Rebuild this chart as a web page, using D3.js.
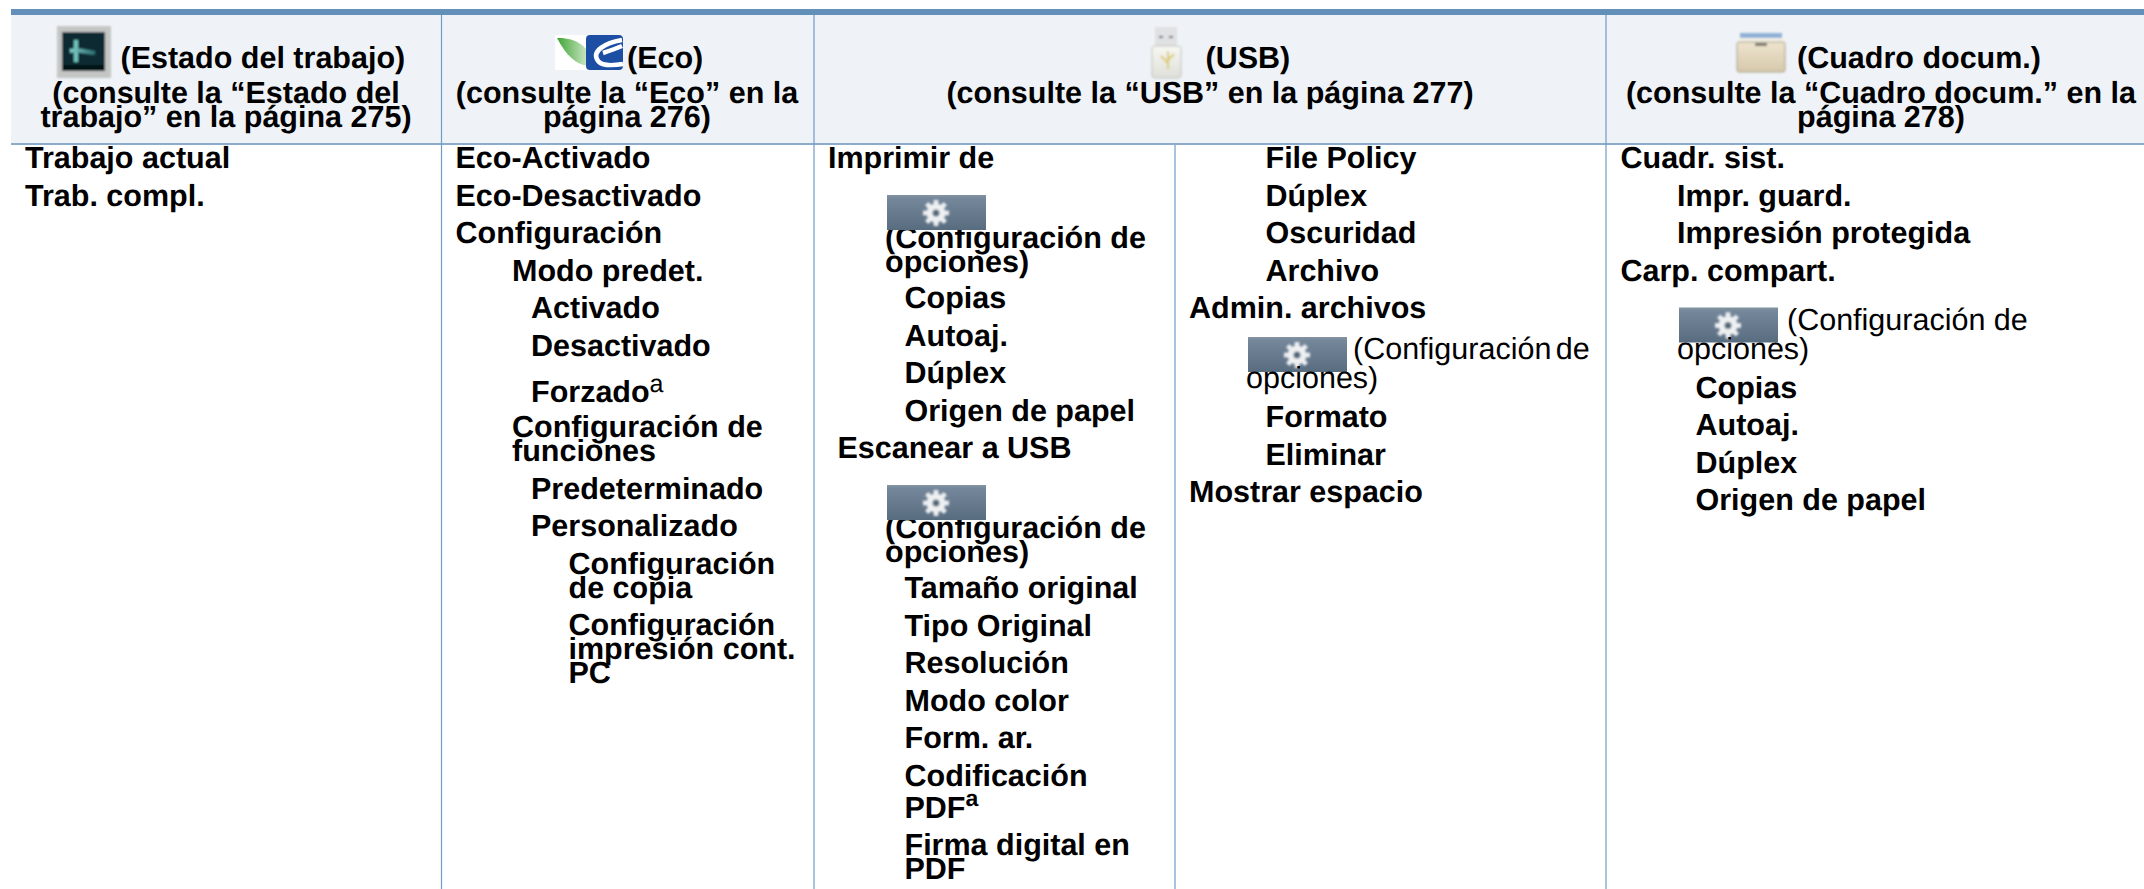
<!DOCTYPE html>
<html>
<head>
<meta charset="utf-8">
<script src="https://cdn.jsdelivr.net/npm/d3@7"></script>
<style>
  html, body { margin: 0; background: #fff; overflow: hidden; }
  text { font-family: "Liberation Sans", Arial, sans-serif; font-size: 30.5px; fill: #000; font-weight: bold; text-rendering: geometricPrecision; }
</style>
</head>
<body>
<div id="table"></div>
<script>
// table content. each row: [indent level, text, kind]. "|" breaks a cell line
const headTitles = ["(Estado del trabajo)", "(Eco)", "(USB)", "(Cuadro docum.)"];
const headRefs = [
    ["(consulte la “Estado del", "trabajo” en la página 275)"],
    ["(consulte la “Eco” en la", "página 276)"],
    ["(consulte la “USB” en la página 277)"],
    ["(consulte la “Cuadro docum.” en la", "página 278)"]
];
const colTrabajo = [[0, "Trabajo actual"], [0, "Trab. compl."]];
const colEco = [
    [0, "Eco-Activado"], [0, "Eco-Desactivado"], [0, "Configuración"], [1, "Modo predet."],
    [2, "Activado"], [2, "Desactivado"], [2, "Forzado", "supThin"],
    [1, "Configuración de|funciones"], [2, "Predeterminado"], [2, "Personalizado"],
    [3, "Configuración|de copia"], [3, "Configuración|impresión cont.|PC"]
];
const colUsb1 = [
    [0, "Imprimir de"], [1, "(Configuración de|opciones)", "gearAbove"],
    [2, "Copias"], [2, "Autoaj."], [2, "Dúplex"], [2, "Origen de papel"],
    [3, "Escanear a USB"], [1, "(Configuración de|opciones)", "gearAbove"],
    [2, "Tamaño original"], [2, "Tipo Original"], [2, "Resolución"], [2, "Modo color"], [2, "Form. ar."],
    [2, "Codificación|PDF", "supBold"], [2, "Firma digital en|PDF"]
];
const colUsb2 = [
    [1, "File Policy"], [1, "Dúplex"], [1, "Oscuridad"], [1, "Archivo"],
    [0, "Admin. archivos"], [2, "(Configuración de|opciones)", "gearInline"],
    [1, "Formato"], [1, "Eliminar"], [0, "Mostrar espacio"]
];
const colCuadro = [
    [0, "Cuadr. sist."], [1, "Impr. guard."], [1, "Impresión protegida"], [0, "Carp. compart."],
    [1, "(Configuración de|opciones)", "gearInline"],
    [2, "Copias"], [2, "Autoaj."], [2, "Dúplex"], [2, "Origen de papel"]
];

const width = 2144, height = 889;
const rowStep = 37.5, lineStep = 24, firstBaseline = 168;

// x of each indent level, per column
const indent = [
    d3.scaleOrdinal([0], [25]),
    d3.scaleOrdinal([0, 1, 2, 3], [455.5, 512, 531, 568.5]),
    d3.scaleOrdinal([0, 1, 2, 3], [828, 885, 904.5, 837.5]),
    d3.scaleOrdinal([0, 1, 2], [1189, 1265.5, 1246]),
    d3.scaleOrdinal([0, 1, 2], [1620.5, 1677, 1695.5])
];
const columns = [colTrabajo, colEco, colUsb1, colUsb2, colCuadro];

// gap before a row when it differs from rowStep
const gapBefore = { supThin: 46.5, gearAbove: 80, afterSupThin: 35, afterInline: 39, afterAbove: 36 };

const svg = d3.select("#table").append("svg").attr("width", width).attr("height", height);
const defs = svg.append("defs");

function vGrad(id, stops) {
    const g = defs.append("linearGradient").attr("id", id).attr("x1", 0).attr("x2", 0).attr("y1", 0).attr("y2", 1);
    stops.forEach(s => g.append("stop").attr("offset", s[0]).attr("stop-color", s[1]));
}
vGrad("btn", [[0, "#8494a2"], [0.1, "#75879a"], [1, "#586c80"]]);
vGrad("folder", [[0, "#eee4cf"], [1, "#d6c8aa"]]);
vGrad("usb", [[0, "#f8f8f3"], [1, "#dedfd9"]]);
const leaf = defs.append("linearGradient").attr("id", "leaf");
leaf.append("stop").attr("offset", 0).attr("stop-color", "#3fa535");
leaf.append("stop").attr("offset", 1).attr("stop-color", "#e4f0dc");
const crossFade = defs.append("linearGradient").attr("id", "crossFade");
crossFade.append("stop").attr("offset", 0).attr("stop-color", "#7fd0cb");
crossFade.append("stop").attr("offset", 1).attr("stop-color", "#2c6f73");
defs.append("filter").attr("id", "soft").append("feGaussianBlur").attr("stdDeviation", 0.8);

// header band and rules
svg.append("rect").attr("x", 11).attr("y", 15).attr("width", width - 11).attr("height", 128).attr("fill", "#eff3f7");
svg.append("rect").attr("x", 11).attr("y", 9).attr("width", width - 11).attr("height", 6).attr("fill", "#6390b8");
svg.append("rect").attr("x", 11).attr("y", 143).attr("width", width - 11).attr("height", 2).attr("fill", "#8caccc");
[441.5, 814, 1606].forEach(x => {
    svg.append("line").attr("x1", x).attr("x2", x).attr("y1", 15).attr("y2", height)
        .attr("stroke", "#6f9bc6").attr("stroke-width", 1.2);
});
svg.append("line").attr("x1", 1175).attr("x2", 1175).attr("y1", 145).attr("y2", height)
    .attr("stroke", "#6f9bc6").attr("stroke-width", 1.2);

// header text
const headTitleX = [120.5, 627, 1205.5, 1797];
const headCenter = [226, 627, 1210, 1881];
svg.selectAll("text.title").data(headTitles).enter().append("text")
    .attr("class", "title").attr("x", (d, i) => headTitleX[i]).attr("y", 68).text(d => d);
headRefs.forEach((lines, i) => {
    svg.selectAll(null).data(lines).enter().append("text")
        .attr("x", headCenter[i]).attr("y", (d, j) => 103 + j * lineStep)
        .attr("text-anchor", "middle").text(d => d);
});

// small settings button
function gearButton(x, y) {
    const g = svg.append("g").attr("transform", "translate(" + x + "," + y + ")");
    g.append("rect").attr("width", 99).attr("height", 35).attr("fill", "url(#btn)");
    const c = g.append("g").attr("transform", "translate(49,18)").attr("filter", "url(#soft)");
    d3.range(8).forEach(i => {
        c.append("rect").attr("x", -2.2).attr("y", -13).attr("width", 4.4).attr("height", 26)
            .attr("fill", "#eef0f2").attr("transform", "rotate(" + i * 45 + ")");
    });
    c.append("circle").attr("r", 9.5).attr("fill", "#eef0f2");
    c.append("circle").attr("r", 3.5).attr("fill", "#56697c");
}

// body rows
columns.forEach((rows, ci) => {
    let y = firstBaseline;
    rows.forEach((row, ri) => {
        const level = row[0], lines = row[1].split("|"), kind = row[2];
        const prev = ri > 0 ? rows[ri - 1][2] : null;
        if (ri > 0) {
            let gap = rowStep;
            if (kind && gapBefore[kind]) gap = gapBefore[kind];
            if (prev === "supThin") gap = gapBefore.afterSupThin;
            if (prev === "gearInline") gap = gapBefore.afterInline;
            if (prev === "gearAbove") gap = gapBefore.afterAbove;
            if (kind === "gearInline" && ci === 3) gap = 41;
            if (kind === "gearInline" && ci === 4) gap = 49;
            y += gap;
        }
        const x = indent[ci](level);
        lines.forEach((line, li) => {
            const baseline = y;
            const t = svg.append("text").attr("x", x).attr("y", baseline).text(line);
            if (kind === "gearInline") {
                t.style("font-weight", "normal");
                if (li === 0) {
                    gearButton(x + 2, baseline - 22);
                    t.attr("x", x + (ci === 3 ? 107 : 110));
                    if (ci === 3) t.style("word-spacing", "-4px");
                }
            }
            if (kind === "gearAbove" && li === 0) gearButton(x + 2, baseline - 53);
            if (kind === "supThin") {
                t.append("tspan").attr("dy", -10).style("font-size", "25px").style("font-weight", "normal").text("a");
            }
            if (kind === "supBold" && li === lines.length - 1) {
                t.append("tspan").attr("dy", -12).style("font-size", "23px").text("a");
            }
            if (li < lines.length - 1) {
                y += (kind === "supBold") ? 32 : (kind === "gearInline" ? 29 : lineStep);
            }
        });
    });
});

// header icons
const iconJob = svg.append("g").attr("transform", "translate(57,26)").attr("filter", "url(#soft)");
iconJob.append("rect").attr("width", 54).attr("height", 52).attr("fill", "#c4c6c4");
iconJob.append("rect").attr("x", 5).attr("y", 6).attr("width", 43).attr("height", 39).attr("fill", "#0a2a30");
iconJob.append("rect").attr("x", 5).attr("y", 39).attr("width", 43).attr("height", 6).attr("fill", "#061316");
iconJob.append("path").attr("d", "M19 14V36").attr("stroke", "#6fc4bf").attr("stroke-width", 4).attr("fill", "none");
iconJob.append("path").attr("d", "M13 25L19 24L38 27").attr("stroke", "url(#crossFade)").attr("stroke-width", 4).attr("fill", "none");

const iconEco = svg.append("g").attr("transform", "translate(555,35)");
iconEco.append("rect").attr("width", 68).attr("height", 35).attr("fill", "#fff");
iconEco.append("path").attr("d", "M2 3C18 2 36 10 37 30C24 33 12 22 2 3Z").attr("fill", "url(#leaf)");
iconEco.append("rect").attr("x", 31).attr("y", 0).attr("width", 37).attr("height", 35).attr("rx", 4).attr("fill", "#1c4fa3");
iconEco.append("path").attr("d", "M67 5C50 8 36 16 43 26C47 31 56 31 68 29M48 18C54 16 60 14 67 11")
    .attr("stroke", "#fff").attr("stroke-width", 4.5).attr("fill", "none");

const iconUsb = svg.append("g").attr("transform", "translate(1152,27)").attr("filter", "url(#soft)");
iconUsb.append("rect").attr("x", 3).attr("y", 0).attr("width", 22).attr("height", 20).attr("fill", "#dfe1e3");
iconUsb.append("rect").attr("x", 7).attr("y", 9).attr("width", 4).attr("height", 2).attr("fill", "#666");
iconUsb.append("rect").attr("x", 17).attr("y", 9).attr("width", 4).attr("height", 2).attr("fill", "#666");
iconUsb.append("rect").attr("x", 0).attr("y", 19).attr("width", 29).attr("height", 32).attr("rx", 3).attr("fill", "url(#usb)").attr("stroke", "#c2c2bd");
iconUsb.append("path").attr("d", "M16 42V24M16 36L9 29M16 33L22 27").attr("stroke", "#dccb6a").attr("stroke-width", 2).attr("fill", "none");

const iconFolder = svg.append("g").attr("transform", "translate(1737,33)").attr("filter", "url(#soft)");
iconFolder.append("rect").attr("x", 3).attr("y", 0).attr("width", 42).attr("height", 8).attr("fill", "#8fb0d6");
iconFolder.append("rect").attr("x", 1).attr("y", 5).attr("width", 46).attr("height", 8).attr("fill", "#f3f1e8");
iconFolder.append("rect").attr("x", 0).attr("y", 9).attr("width", 48).attr("height", 30).attr("rx", 2).attr("fill", "url(#folder)").attr("stroke", "#a89f8a");
iconFolder.append("rect").attr("x", 18).attr("y", 10).attr("width", 12).attr("height", 3).attr("fill", "#77756a");
</script>
</body>
</html>
